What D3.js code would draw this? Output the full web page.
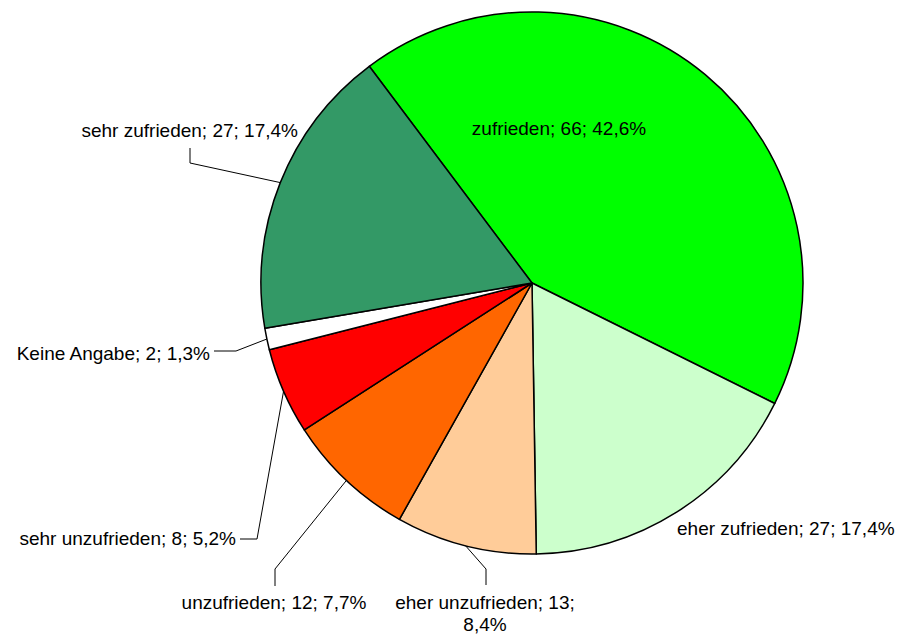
<!DOCTYPE html>
<html>
<head>
<meta charset="utf-8">
<script src="https://cdn.jsdelivr.net/npm/d3@7"></script>
<style>
  body { margin: 0; background: #fff; }
  svg text { font-family: "Liberation Sans", Arial, sans-serif; font-size: 19px; fill: #000; }
</style>
</head>
<body>
<svg id="chart" width="901" height="634"></svg>
<script>
// data, clockwise from the top-left boundary
const categories = ["zufrieden", "eher zufrieden", "eher unzufrieden", "unzufrieden",
  "sehr unzufrieden", "Keine Angabe", "sehr zufrieden"];
const counts = [66, 27, 13, 12, 8, 2, 27];
const percentLabels = ["42,6%", "17,4%", "8,4%", "7,7%", "5,2%", "1,3%", "17,4%"];
const colors = ["#00ff00", "#ccffcc", "#ffcc99", "#ff6600", "#ff0000", "#ffffff", "#339966"];

// label placement (layout only)
const labelLayout = {
  "zufrieden":        { x: 559, y: 135, anchor: "middle" },
  "eher zufrieden":   { x: 677, y: 535, anchor: "start" },
  "eher unzufrieden": { x: 485, y: 609, anchor: "middle", split: true, leader: [[486, 569], [486, 585]] },
  "unzufrieden":      { x: 274, y: 609, anchor: "middle", leader: [[275, 569], [275, 586]] },
  "sehr unzufrieden": { x: 236, y: 545, anchor: "end", leader: [[257, 539], [240, 539]] },
  "Keine Angabe":     { x: 210, y: 360, anchor: "end", leader: [[236, 351], [214, 351]] },
  "sehr zufrieden":   { x: 298, y: 137, anchor: "end", leader: [[190, 163], [190, 148]] }
};

const cx = 532, cy = 283, r = 271;
const start = -36.9 * Math.PI / 180;

const svg = d3.select("#chart");
const g = svg.append("g").attr("transform", `translate(${cx},${cy})`);

const data = categories.map((c, i) => ({ cat: c, value: counts[i], pct: percentLabels[i], color: colors[i] }));

const pie = d3.pie().value(d => d.value).sort(null)
  .startAngle(start).endAngle(start + 2 * Math.PI);
const arcs = pie(data);

const arc = d3.arc().innerRadius(0).outerRadius(r);
const edge = d3.arc().innerRadius(r).outerRadius(r);

g.selectAll("path.slice").data(arcs).enter().append("path")
  .attr("class", "slice")
  .attr("d", arc)
  .attr("fill", d => d.data.color)
  .attr("stroke", "#000")
  .attr("stroke-width", 1.5)
  .attr("stroke-linejoin", "round");

// leader lines
const line = d3.line();
arcs.forEach(a => {
  const lay = labelLayout[a.data.cat];
  if (!lay.leader) return;
  const [ex, ey] = edge.centroid(a);
  const pts = [[ex + cx, ey + cy]].concat(lay.leader);
  svg.append("path")
    .attr("d", line(pts))
    .attr("fill", "none")
    .attr("stroke", "#000")
    .attr("stroke-width", 1);
});

// labels
arcs.forEach(a => {
  const lay = labelLayout[a.data.cat];
  const t = svg.append("text")
    .attr("x", lay.x).attr("y", lay.y)
    .attr("text-anchor", lay.anchor);
  if (lay.split) {
    t.append("tspan").attr("x", lay.x).text(`${a.data.cat}; ${a.data.value};`);
    t.append("tspan").attr("x", lay.x).attr("dy", 22).text(a.data.pct);
  } else {
    t.text(`${a.data.cat}; ${a.data.value}; ${a.data.pct}`);
  }
});
</script>
</body>
</html>
